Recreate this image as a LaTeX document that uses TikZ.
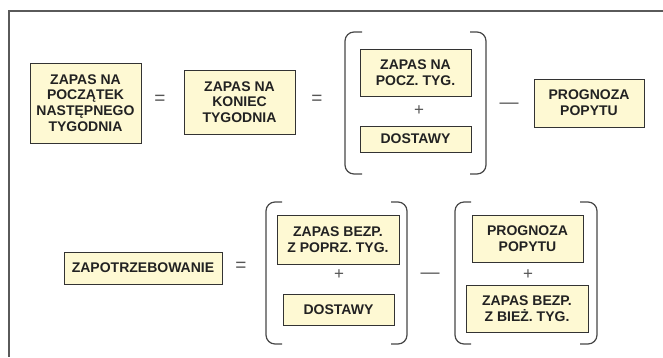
\documentclass[tikz,border=0pt]{standalone}
\usepackage{fontspec}
\setmainfont{Liberation Sans}
\definecolor{boxfill}{HTML}{FEF9D3}
\definecolor{boxline}{HTML}{333333}
\definecolor{txt}{HTML}{222222}
\definecolor{symcol}{HTML}{555555}
\definecolor{framecol}{HTML}{5A5A5A}
\begin{document}
\begin{tikzpicture}[x=1pt,y=-1pt,
  box/.style={draw=boxline, line width=1pt, fill=boxfill, text=txt,
    font=\fontsize{14pt}{15.8pt}\selectfont\bfseries, align=center,
    inner sep=0pt, minimum width=#1},
  box/.default=111pt,
  sym/.style={text=symcol, inner sep=0pt, font=\fontsize{19pt}{19pt}\selectfont},
  paren/.style={draw=boxline!90, line width=1.2pt, rounded corners=9pt},
  frameline/.style={draw=framecol, line width=1.2pt}]
\useasboundingbox (0,0) rectangle (663,357);
% frame
\coordinate (fa) at (663,11);
\coordinate (fb) at (9,11);
\coordinate (fc) at (9,357);
\draw[frameline] (fa) -- (fb) -- (fc);

% row 1
\node[box, minimum height=80pt] (b1) at (85.5,103) {ZAPAS NA\\POCZĄTEK\\NASTĘPNEGO\\TYGODNIA};
\node[sym] (eq1) at (160,100) {=};
\node[box, minimum height=64pt] (b2) at (239.5,102) {ZAPAS NA\\KONIEC\\TYGODNIA};
\node[sym] (eq2) at (317,100) {=};
\node[box, minimum height=47pt] (b3) at (415.5,72.5) {ZAPAS NA\\POCZ. TYG.};
\node[sym, font=\fontsize{17pt}{17pt}\selectfont] (pl1) at (419,111) {+};
\node[box, minimum height=26pt] (b4) at (415.5,139) {DOSTAWY};
\node[sym] (mi1) at (509,106) {—};
\node[box, minimum width=110pt, minimum height=48pt] (b5) at (589,103) {PROGNOZA\\POPYTU};
\draw[paren] (362,32) -- (345,32) -- (345,174) -- (362,174);
\draw[paren] (470,32) -- (486,32) -- (486,174) -- (470,174);

% row 2
\node[box=158pt, minimum height=32pt] (z) at (143,268) {ZAPOTRZEBOWANIE};
\node[sym] (eq3) at (241,267) {=};
\node[box=122pt, minimum height=49pt] (c1) at (338,239.5) {ZAPAS BEZP.\\Z POPRZ. TYG.};
\node[sym, font=\fontsize{17pt}{17pt}\selectfont] (pl2) at (339,275) {+};
\node[box, minimum height=31pt] (c2) at (338.5,309.5) {DOSTAWY};
\node[sym] (mi2) at (430,276) {—};
\node[box, minimum height=47pt] (c3) at (527.5,238.5) {PROGNOZA\\POPYTU};
\node[sym, font=\fontsize{17pt}{17pt}\selectfont] (pl3) at (528,275) {+};
\node[box=122pt, minimum height=47pt] (c4) at (527,308.5) {ZAPAS BEZP.\\Z BIEŻ. TYG.};
\draw[paren] (282,202) -- (266,202) -- (266,344) -- (282,344);
\draw[paren] (391,202) -- (407,202) -- (407,344) -- (391,344);
\draw[paren] (471,202) -- (455,202) -- (455,344) -- (471,344);
\draw[paren] (580,202) -- (597,202) -- (597,344) -- (580,344);
\end{tikzpicture}
\end{document}
